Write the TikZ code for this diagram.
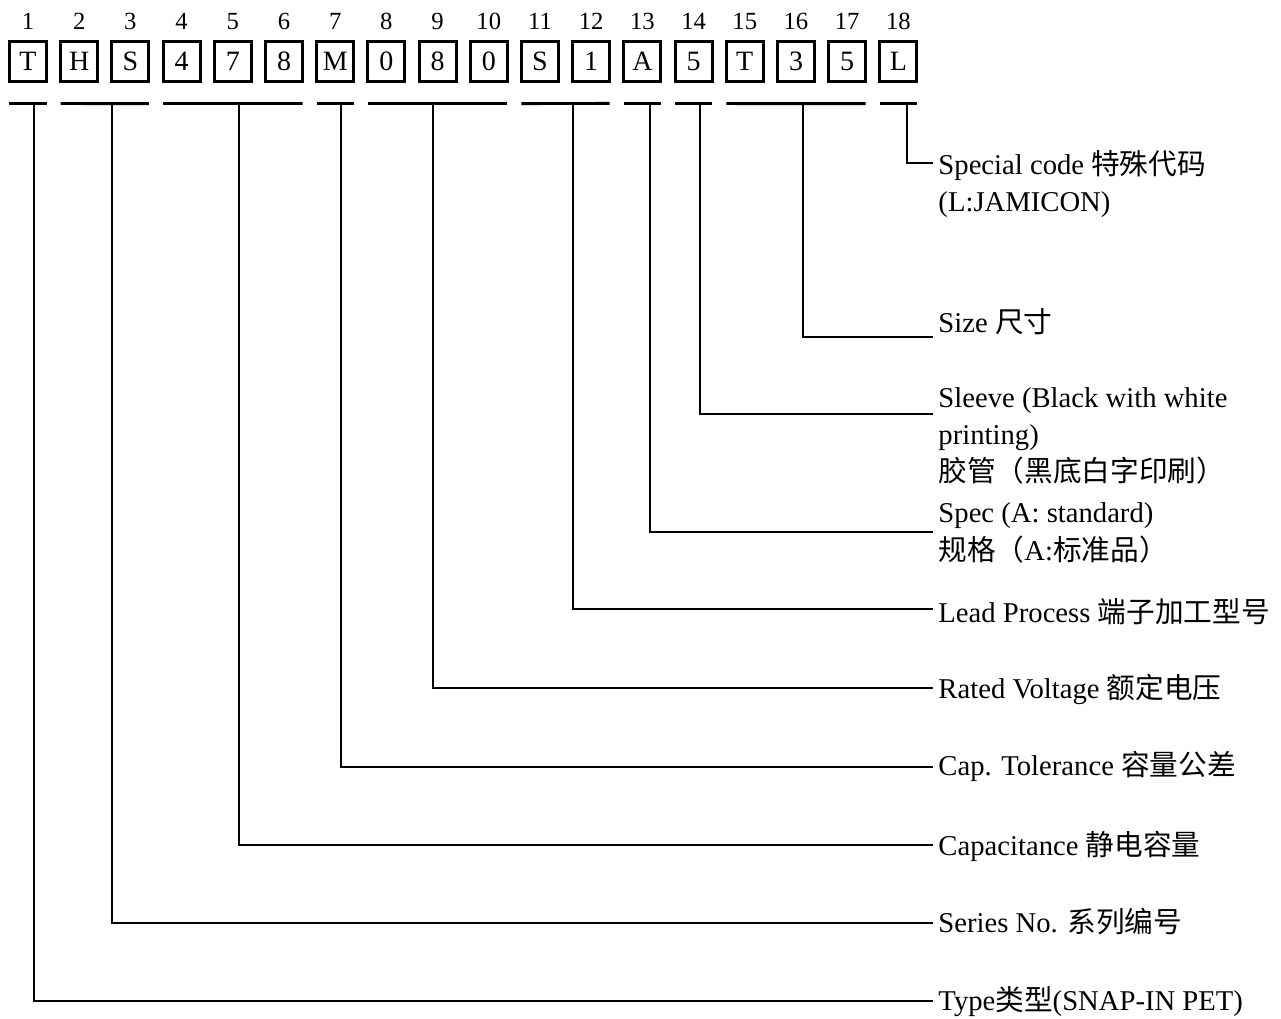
\documentclass[tikz,border=0pt]{standalone}
\usepackage{fontspec}
\setmainfont{Liberation Serif}
\newfontfamily\cjk{Noto Sans CJK SC}
\usetikzlibrary{shapes,arrows,positioning}
\usetikzlibrary{matrix}

\begin{document}
\begin{tikzpicture}[x=0.75pt,y=-0.75pt,line width=2.2pt,
  digit/.style={draw,line width=2.2pt,minimum width=27.8pt,minimum height=30pt,
    inner sep=0pt,outer sep=0pt,font=\fontsize{21}{25}\selectfont},
  num/.style={inner sep=0pt,outer sep=0pt,font=\fontsize{18.5}{20}\selectfont},
  lab/.style={anchor=base west,inner sep=0pt,align=left,
    font=\fontsize{21.5}{28}\selectfont},
]
\useasboundingbox (0,0) rectangle (1281,1019);
\matrix[
  matrix of nodes,
  column sep=8.4pt,
  row sep=7.5pt,
  inner sep=0pt,
  outer sep=0pt,
  anchor=south west,
  row 1/.style={nodes={num}},
  row 2/.style={nodes={digit}},
] (m) at (8,83)
{
1 & 2 & 3 & 4 & 5 & 6 & 7 & 8 & 9 & 10 & 11 & 12 & 13 & 14 & 15 & 16 & 17 & 18 \\
T & H & S & 4 & 7 & 8 & M & 0 & 8 & 0 & S & 1 & A & 5 & T & 3 & 5 & L \\
};
\foreach \a/\b in {1/1,2/3,4/6,7/7,8/10,11/12,13/13,14/14,15/17,18/18}
  \draw ([yshift=-16.6pt]m-2-\a.south west) -- ([yshift=-16.6pt]m-2-\b.south east);
\foreach \k/\x/\y/\b/\txt in {
  18/907/163/212/{Special code {\cjk 特殊代码}\\(L:JAMICON)},
  16/803/337/333/{Size {\cjk 尺寸}},
  14/700/414/482/{Sleeve (Black with white\\printing)\\{\cjk 胶管（黑底白字印刷）}},
  13/650/532/560/{Spec (A: standard)\\{\cjk 规格（}A:{\cjk 标准品）}},
  12/573/609/622/{Lead Process {\cjk 端子加工型号}},
  9/433/688/698/{Rated Voltage {\cjk 额定电压}},
  7/341/767/775/{Cap. Tolerance {\cjk 容量公差}},
  5/239/845/855/{Capacitance {\cjk 静电容量}},
  3/112/923/932/{Series No. {\cjk 系列编号}},
  1/34/1001/1010/{Type{\cjk 类型}(SNAP-IN PET)}}
{
  \coordinate (t\k) at (\x,104);
  \coordinate (e\k) at (933,\y);
  \node[lab] (l\k) at (937,\b) {\txt};
  \draw (t\k) |- (e\k);
}
\end{tikzpicture}
\end{document}
